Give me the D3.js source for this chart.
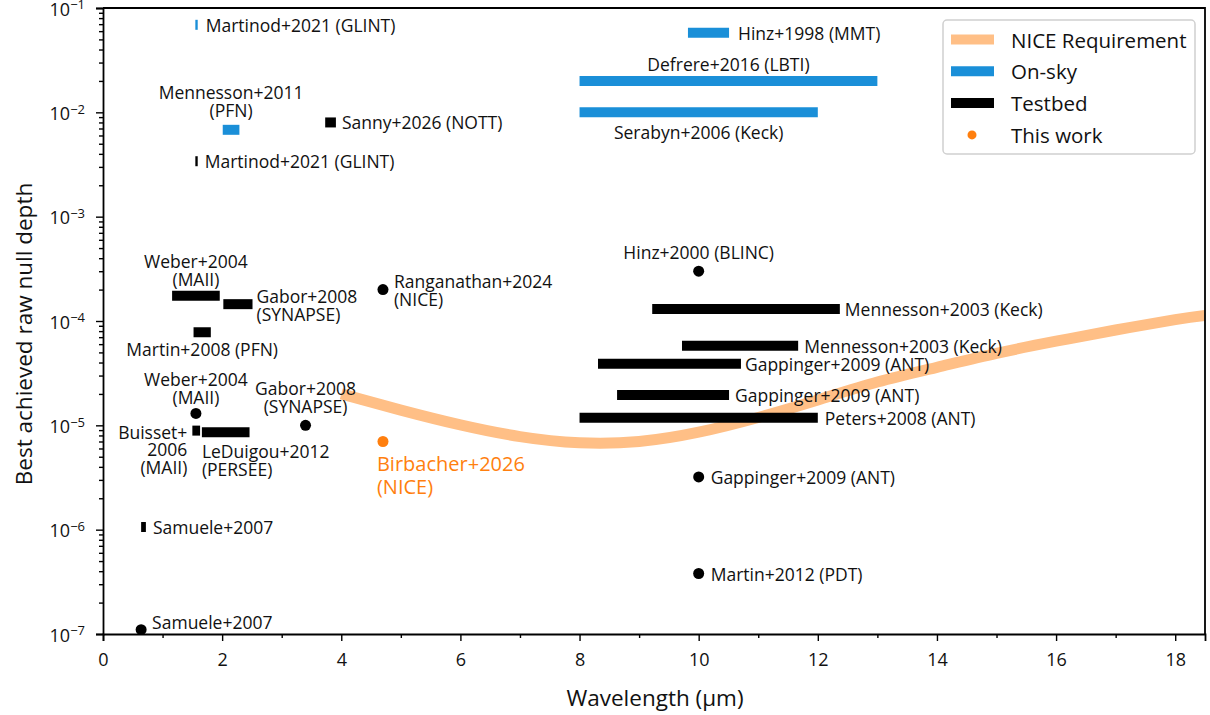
<!DOCTYPE html>
<html>
<head>
<meta charset="utf-8">
<script src="https://cdn.jsdelivr.net/npm/d3@7"></script>
<style>
body { margin: 0; background: #fff; }
text { font-family: "Open Sans", sans-serif; fill: #111; }
</style>
</head>
<body>
<script>
// ---- data ----
// on-sky results (horizontal bars = wavelength band)
const onSkyLabels = ["Martinod+2021 (GLINT)", "Mennesson+2011\n(PFN)", "Hinz+1998 (MMT)", "Defrere+2016 (LBTI)", "Serabyn+2006 (Keck)"];
const onSkyStart = [1.55, 2.01, 9.82, 8.0, 8.0];
const onSkyEnd   = [1.59, 2.29, 10.51, 13.0, 12.0];
const onSkyDepth = [6.9e-2, 6.8e-3, 5.8e-2, 2.0e-2, 1.0e-2];

// testbed results with a band
const testbedLabels = ["Martinod+2021 (GLINT)", "Sanny+2026 (NOTT)", "Weber+2004\n(MAII)", "Gabor+2008\n(SYNAPSE)",
  "Martin+2008 (PFN)", "Buisset+\n2006\n(MAII)", "LeDuigou+2012\n(PERSEE)", "Samuele+2007",
  "Mennesson+2003 (Keck)", "Mennesson+2003 (Keck)", "Gappinger+2009 (ANT)", "Gappinger+2009 (ANT)", "Peters+2008 (ANT)"];
const testbedStart = [1.55, 3.73, 1.16, 2.02, 1.52, 1.50, 1.66, 0.64, 9.22, 9.72, 8.31, 8.63, 8.0];
const testbedEnd   = [1.59, 3.91, 1.96, 2.51, 1.81, 1.63, 2.46, 0.72, 12.37, 11.67, 10.71, 10.51, 12.0];
const testbedDepth = [3.4e-3, 8.0e-3, 1.75e-4, 1.45e-4, 7.8e-5, 8.9e-6, 8.6e-6, 1.06e-6, 1.3e-4, 5.8e-5, 3.9e-5, 1.95e-5, 1.18e-5];

// testbed results at a single wavelength
const pointLabels = ["Samuele+2007", "Weber+2004\n(MAII)", "Gabor+2008\n(SYNAPSE)", "Ranganathan+2024\n(NICE)",
  "Hinz+2000 (BLINC)", "Gappinger+2009 (ANT)", "Martin+2012 (PDT)"];
const pointWave  = [0.64, 1.56, 3.4, 4.7, 10, 10, 10];
const pointDepth = [1.1e-7, 1.3e-5, 1.0e-5, 2.0e-4, 3.0e-4, 3.2e-6, 3.8e-7];

// this work
const thisWorkLabel = "Birbacher+2026\n(NICE)";
const thisWorkWave = 4.7;
const thisWorkDepth = 7.0e-6;

// NICE requirement curve
const reqWave  = [4, 5, 6, 7, 8, 9, 10, 11, 12, 13, 14, 15, 16, 17, 18, 18.5];
const reqDepth = [2.0e-5, 1.40e-5, 1.01e-5, 7.8e-6, 6.8e-6, 7.0e-6, 8.6e-6, 1.19e-5, 1.75e-5, 2.6e-5, 3.6e-5, 4.9e-5, 6.4e-5, 8.2e-5, 1.03e-4, 1.13e-4];

// axis ticks
const xMajor = [0, 2, 4, 6, 8, 10, 12, 14, 16, 18];
const xMinor = [1, 3, 5, 7, 9, 11, 13, 15, 17];
const yExp = [-7, -6, -5, -4, -3, -2, -1];

// ---- label placement (pixels) ----
const onSkyPlace = [
  {ref: 'end', dx: 8, dy: 0, anchor: 'start'},
  {ref: 'mid', dx: 0, dy: -38, anchor: 'middle'},
  {ref: 'end', dx: 9, dy: 0, anchor: 'start'},
  {ref: 'mid', dx: 0, dy: -17, anchor: 'middle'},
  {ref: 'mid', dx: 0, dy: 20, anchor: 'middle'}
];
const testbedPlace = [
  {ref: 'end', dx: 7, dy: 0, anchor: 'start'},
  {ref: 'end', dx: 6, dy: 0, anchor: 'start'},
  {ref: 'mid', dx: 0, dy: -35, anchor: 'middle'},
  {ref: 'end', dx: 4, dy: -8, anchor: 'start'},
  {ref: 'mid', dx: 0, dy: 17, anchor: 'middle'},
  {ref: 'start', dx: -5, dy: 1, anchor: 'end', lh: 17.5},
  {ref: 'start', dx: 0, dy: 19, anchor: 'start'},
  {ref: 'end', dx: 7, dy: 0, anchor: 'start'},
  {ref: 'end', dx: 5, dy: 0, anchor: 'start'},
  {ref: 'end', dx: 6, dy: 0, anchor: 'start'},
  {ref: 'end', dx: 4, dy: 0, anchor: 'start'},
  {ref: 'end', dx: 6, dy: 0, anchor: 'start'},
  {ref: 'end', dx: 7, dy: 0, anchor: 'start'}
];
const pointPlace = [
  {dx: 11, dy: -8, anchor: 'start'},
  {dx: 0, dy: -34, anchor: 'middle'},
  {dx: 0, dy: -37, anchor: 'middle'},
  {dx: 11, dy: -9, anchor: 'start'},
  {dx: 0, dy: -19, anchor: 'middle'},
  {dx: 12, dy: 0, anchor: 'start'},
  {dx: 12, dy: 0, anchor: 'start'}
];

const blue = '#1a8fd8';
const orange = '#ff7f0e';
const reqColor = '#ffbf86';
const annFont = 17.5;

const width = 1210, height = 715;
const margin = {top: 8, right: 5, bottom: 81, left: 103};

const svg = d3.select('body').append('svg').attr('width', width).attr('height', height);

const x = d3.scaleLinear().domain([0, 18.5]).range([margin.left, width - margin.right]);
const y = d3.scaleLog().domain([1e-7, 1e-1]).range([height - margin.bottom, margin.top]);

svg.append('clipPath').attr('id', 'clip')
  .append('rect')
  .attr('x', margin.left).attr('y', margin.top)
  .attr('width', x.range()[1] - x.range()[0]).attr('height', y.range()[0] - y.range()[1]);

const plot = svg.append('g').attr('clip-path', 'url(#clip)');

// requirement curve
const reqLine = d3.line().x((d, i) => x(reqWave[i])).y(d => y(d)).curve(d3.curveNatural);
plot.append('path')
  .attr('d', reqLine(reqDepth))
  .attr('fill', 'none')
  .attr('stroke', reqColor)
  .attr('stroke-width', 11);

// bars
function drawBars(starts, ends, depths, color) {
  plot.append('g').selectAll('line')
    .data(depths)
    .join('line')
    .attr('x1', (d, i) => x(starts[i]))
    .attr('x2', (d, i) => x(ends[i]))
    .attr('y1', d => y(d))
    .attr('y2', d => y(d))
    .attr('stroke', color)
    .attr('stroke-width', 10);
}
drawBars(onSkyStart, onSkyEnd, onSkyDepth, blue);
drawBars(testbedStart, testbedEnd, testbedDepth, '#000');

// points
plot.append('g').selectAll('circle')
  .data(pointDepth)
  .join('circle')
  .attr('cx', (d, i) => x(pointWave[i]))
  .attr('cy', d => y(d))
  .attr('r', 5.5)
  .attr('fill', '#000');

plot.append('circle')
  .attr('cx', x(thisWorkWave)).attr('cy', y(thisWorkDepth))
  .attr('r', 5.5).attr('fill', orange);

// labels
const labelG = svg.append('g');
function addLabel(txt, px, py, anchor, lh, size, color) {
  const t = labelG.append('text')
    .attr('x', px).attr('y', py)
    .attr('text-anchor', anchor)
    .attr('dominant-baseline', 'central')
    .style('font-size', size + 'px')
    .style('fill', color);
  txt.split('\n').forEach((s, k) => {
    t.append('tspan').attr('x', px).attr('y', py + k * lh).text(s);
  });
}
function barLabels(labels, starts, ends, depths, place) {
  labels.forEach((lab, i) => {
    const p = place[i];
    const xs = x(starts[i]), xe = x(ends[i]);
    const rx = p.ref === 'end' ? xe : p.ref === 'start' ? xs : (xs + xe) / 2;
    addLabel(lab, rx + p.dx, y(depths[i]) + p.dy, p.anchor, p.lh || 18, annFont, '#111');
  });
}
barLabels(onSkyLabels, onSkyStart, onSkyEnd, onSkyDepth, onSkyPlace);
barLabels(testbedLabels, testbedStart, testbedEnd, testbedDepth, testbedPlace);
pointLabels.forEach((lab, i) => {
  const p = pointPlace[i];
  addLabel(lab, x(pointWave[i]) + p.dx, y(pointDepth[i]) + p.dy, p.anchor, 18, annFont, '#111');
});
addLabel(thisWorkLabel, x(thisWorkWave) - 6, y(thisWorkDepth) + 22, 'start', 23, 20, orange);

// axes
const xAxis = svg.append('g').attr('transform', `translate(0,${y.range()[0]})`)
  .call(d3.axisBottom(x).tickValues(xMajor).tickSize(7).tickPadding(12).tickFormat(d3.format('d')));
svg.append('g').attr('transform', `translate(0,${y.range()[0]})`)
  .call(d3.axisBottom(x).tickValues(xMinor).tickSize(4).tickFormat(''))
  .call(g => g.select('.domain').remove());

const yMinor = [];
yExp.slice(0, -1).forEach(e => { for (let m = 2; m <= 9; m++) yMinor.push(m * Math.pow(10, e)); });
const yAxis = svg.append('g').attr('transform', `translate(${x.range()[0]},0)`)
  .call(d3.axisLeft(y).tickValues(yExp.map(e => Math.pow(10, e))).tickSize(7).tickPadding(6).tickFormat(''));
svg.append('g').attr('transform', `translate(${x.range()[0]},0)`)
  .call(d3.axisLeft(y).tickValues(yMinor).tickSize(4).tickFormat(''))
  .call(g => g.select('.domain').remove());

yAxis.selectAll('.tick').each(function(d) {
  const e = Math.round(Math.log10(d));
  const t = d3.select(this).append('text')
    .attr('x', -18).attr('y', 1)
    .attr('dy', '0.35em')
    .attr('text-anchor', 'end')
    .style('font-size', '18px')
    .style('fill', '#111');
  t.append('tspan').text('10');
  t.append('tspan').attr('dy', '-0.5em').style('font-size', '13px').text('\u2212' + Math.abs(e));
});

svg.selectAll('.domain').attr('stroke-width', 1.8);
svg.selectAll('.tick line').attr('stroke-width', 1.4);
xAxis.selectAll('text').style('font-size', '18px').style('fill', '#111');

// top & right spines
svg.append('path')
  .attr('d', `M${x.range()[0]},${y.range()[1]}H${x.range()[1]}V${y.range()[0]}`)
  .attr('fill', 'none').attr('stroke', '#000').attr('stroke-width', 1.8);

// axis titles
svg.append('text')
  .attr('x', 655).attr('y', 697)
  .attr('text-anchor', 'middle').attr('dominant-baseline', 'central')
  .style('font-size', '22.5px')
  .text('Wavelength (\u03bcm)');
svg.append('text')
  .attr('transform', 'translate(23,334) rotate(-90)')
  .attr('text-anchor', 'middle').attr('dominant-baseline', 'central')
  .style('font-size', '22.5px')
  .text('Best achieved raw null depth');

// legend
const lg = svg.append('g').attr('transform', 'translate(943,20)');
lg.append('rect').attr('width', 252).attr('height', 134).attr('rx', 4)
  .attr('fill', 'rgba(255,255,255,0.8)').attr('stroke', '#d0d0d0').attr('stroke-width', 1.5);
const legendNames = ['NICE Requirement', 'On-sky', 'Testbed', 'This work'];
const legendColors = [reqColor, blue, '#000', orange];
legendNames.forEach((name, i) => {
  const cy = 19.5 + i * 31.8;
  if (i < 3) {
    lg.append('line').attr('x1', 8).attr('x2', 51).attr('y1', cy).attr('y2', cy)
      .attr('stroke', legendColors[i]).attr('stroke-width', 10);
  } else {
    lg.append('circle').attr('cx', 29).attr('cy', cy).attr('r', 4.5).attr('fill', legendColors[i]);
  }
  lg.append('text').attr('x', 68).attr('y', cy).attr('dominant-baseline', 'central')
    .style('font-size', '20.5px').text(name);
});
</script>
</body>
</html>
